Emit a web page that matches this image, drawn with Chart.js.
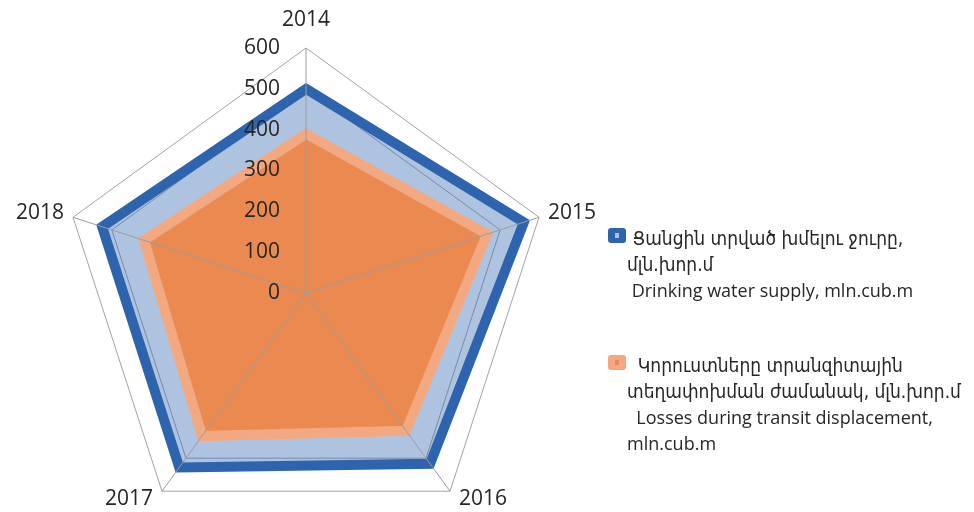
<!DOCTYPE html>
<html>
<head>
<meta charset="utf-8">
<script src="https://cdn.jsdelivr.net/npm/chart.js@4.4.1/dist/chart.umd.min.js"></script>
<style>
  html, body { margin: 0; padding: 0; background: #fff; }
  #wrap { position: relative; width: 974px; height: 512px; overflow: hidden; }
  #chart { position: absolute; left: 0; top: 0; }
  .legend-item { position: absolute; left: 608px; }
  .swatch { position: absolute; left: 0; width: 18px; height: 15px; border-radius: 3px; }
  .swatch i { position: absolute; left: 7px; top: 5px; width: 4px; height: 5px; }
  .lines { position: absolute; left: 19px; top: 0; white-space: pre; color: #262626; line-height: 25px; }
  .arm { font-family: "DejaVu Sans", sans-serif; font-stretch: semi-condensed; font-size: 19px; }
  .eng { font-family: "Open Sans", sans-serif; font-size: 18px; }
</style>
</head>
<body>
<div id="wrap">
  <canvas id="chart" width="974" height="512"></canvas>
  <div id="legend"></div>
</div>
<script>
// data
const years = ['2014', '2015', '2016', '2017', '2018'];
const drinkingWater = [500, 561, 517, 528, 525];
const transitLosses = [390, 466, 417, 433, 417];
const radialTicks = [0, 100, 200, 300, 400, 500, 600];

const seriesArm = [
  ' Ցանցին տրված խմելու ջուրը,\nմլն.խոր.մ',
  '  Կորուստները տրանզիտային\nտեղափոխման ժամանակ, մլն.խոր.մ'
];
const seriesEng = [
  ' Drinking water supply, mln.cub.m',
  '  Losses during transit displacement,\nmln.cub.m'
];

// draws angle lines over the fills, tick labels and year labels
const overlay = {
  id: 'overlay',
  afterDatasetsDraw(chart) {
    const s = chart.scales.r;
    const ctx = chart.ctx;
    ctx.save();
    ctx.strokeStyle = '#9c9c9c';
    ctx.lineWidth = 1;
    years.forEach((_, i) => {
      const p = s.getPointPositionForValue(i, s.max);
      ctx.beginPath();
      ctx.moveTo(s.xCenter, s.yCenter);
      ctx.lineTo(p.x, p.y);
      ctx.stroke();
    });

    ctx.fillStyle = '#262626';
    ctx.font = '21px "Open Sans"';
    ctx.textAlign = 'right';
    ctx.textBaseline = 'middle';
    s.ticks.forEach(t => {
      ctx.fillText(String(t.value), s.xCenter - 26, s.yCenter - s.getDistanceFromCenterForValue(t.value));
    });

    years.forEach((label, i) => {
      const p = s.getPointPositionForValue(i, s.max);
      const dx = p.x - s.xCenter, dy = p.y - s.yCenter;
      if (Math.abs(dx) < 5) {
        ctx.textAlign = 'center';
        ctx.fillText(label, p.x, p.y - 28);
      } else {
        ctx.textAlign = dx > 0 ? 'left' : 'right';
        ctx.fillText(label, p.x + (dx > 0 ? 9 : -9), p.y + (dy > 0 ? 8 : -4));
      }
    });
    ctx.restore();
  }
};

const chart = new Chart(document.getElementById('chart'), {
  type: 'radar',
  data: {
    labels: years,
    datasets: [
      {
        label: seriesArm[0] + ' ' + seriesEng[0],
        data: drinkingWater,
        order: 1,
        borderColor: '#2e64ae',
        backgroundColor: 'rgba(47, 100, 172, 0.39)',
        borderWidth: 10,
        borderJoinStyle: 'miter',
        pointRadius: 0,
        fill: true
      },
      {
        label: seriesArm[1] + ' ' + seriesEng[1],
        data: transitLosses,
        order: 0,
        borderColor: '#f2a981',
        backgroundColor: '#eb8a50',
        borderWidth: 10,
        borderJoinStyle: 'miter',
        pointRadius: 0,
        fill: true
      }
    ]
  },
  options: {
    responsive: false,
    animation: false,
    devicePixelRatio: 1,
    plugins: { legend: { display: false }, tooltip: { enabled: false } },
    scales: {
      r: {
        min: 0,
        max: 600,
        ticks: { display: false, stepSize: 100 },
        afterBuildTicks: s => { s.ticks = radialTicks.map(v => ({ value: v })); },
        grid: { color: '#a3a3a3', lineWidth: 1 },
        angleLines: { display: false },
        pointLabels: { display: false },
        afterFit: s => { s.xCenter = 306; s.yCenter = 293; s.drawingArea = 245; }
      }
    }
  },
  plugins: [overlay]
});

// html legend, built from the dataset colours and names
const legend = document.getElementById('legend');
const legendTops = [226, 353];
chart.data.datasets.forEach((ds, i) => {
  const item = document.createElement('div');
  item.className = 'legend-item';
  item.style.top = legendTops[i] + 'px';
  const sw = document.createElement('div');
  sw.className = 'swatch';
  sw.style.top = '2px';
  sw.style.background = ds.borderColor;
  const dot = document.createElement('i');
  dot.style.background = i === 0 ? '#aec3df' : ds.backgroundColor;
  sw.appendChild(dot);
  const lines = document.createElement('div');
  lines.className = 'lines';
  const arm = document.createElement('span');
  arm.className = 'arm';
  arm.textContent = seriesArm[i] + '\n';
  const eng = document.createElement('span');
  eng.className = 'eng';
  eng.textContent = seriesEng[i];
  lines.appendChild(arm);
  lines.appendChild(eng);
  item.appendChild(sw);
  item.appendChild(lines);
  legend.appendChild(item);
});
</script>
</body>
</html>
